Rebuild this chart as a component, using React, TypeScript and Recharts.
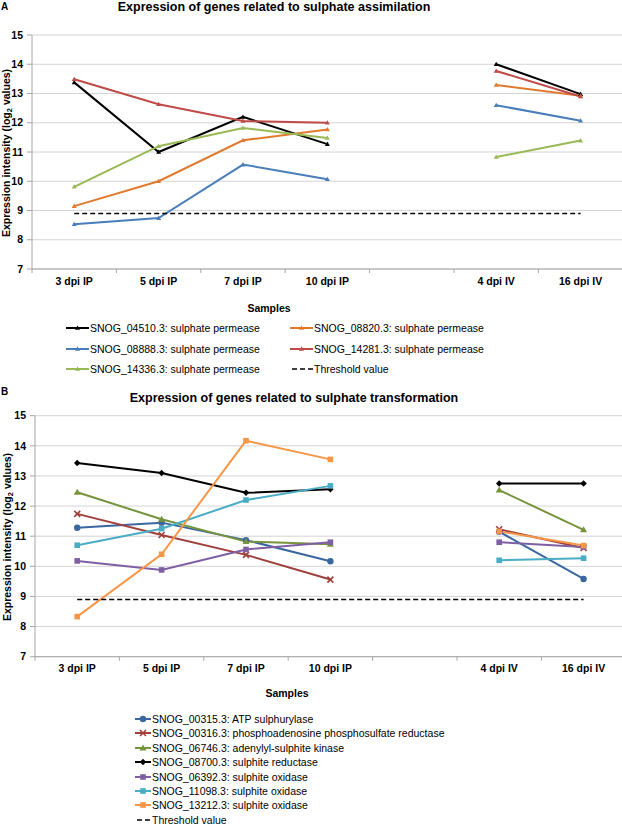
import React from 'react';
import { LineChart, Line, XAxis, YAxis, CartesianGrid } from 'recharts';

// sampling points (the blank one separates the in planta and in vitro samples)
const samples = ['3 dpi IP', '5 dpi IP', '7 dpi IP', '10 dpi IP', '', '4 dpi IV', '16 dpi IV'];
const yTicks = [7, 8, 9, 10, 11, 12, 13, 14, 15];

// A: sulphate assimilation
const snog04510 = [13.38, 11.0, 12.2, 11.27, null, 14.0, 12.98];
const snog08820 = [9.15, 10.0, 11.4, 11.77, null, 13.29, 12.92];
const snog08888 = [8.53, 8.74, 10.57, 10.07, null, 12.6, 12.07];
const snog14281 = [13.49, 12.63, 12.06, 12.0, null, 13.77, 12.9];
const snog14336 = [9.81, 11.2, 11.82, 11.48, null, 10.83, 11.39];
const thresholdA = [8.9, 8.9, 8.9, 8.9, 8.9, 8.9, 8.9];

// B: sulphate transformation
const snog00315 = [11.28, 11.45, 10.87, 10.17, null, 11.15, 9.58];
const snog00316 = [11.74, 11.04, 10.38, 9.56, null, 11.23, 10.61];
const snog06746 = [12.46, 11.56, 10.82, 10.73, null, 12.53, 11.21];
const snog08700 = [13.43, 13.1, 12.44, 12.56, null, 12.75, 12.75];
const snog06392 = [10.18, 9.88, 10.56, 10.8, null, 10.8, 10.64];
const snog11098 = [10.7, 11.25, 12.2, 12.67, null, 10.2, 10.27];
const snog13212 = [8.33, 10.4, 14.17, 13.55, null, 11.16, 10.69];
const thresholdB = [8.9, 8.9, 8.9, 8.9, 8.9, 8.9, 8.9];

type Series = { key: string; label: string; values: (number | null)[]; color: string; shape: string; dashed?: boolean };

const seriesA: Series[] = [
  { key: 'a1', label: 'SNOG_04510.3: sulphate permease', values: snog04510, color: '#000000', shape: 'tri' },
  { key: 'a2', label: 'SNOG_08820.3: sulphate permease', values: snog08820, color: '#E07A2E', shape: 'tri' },
  { key: 'a3', label: 'SNOG_08888.3: sulphate permease', values: snog08888, color: '#4A7EBB', shape: 'tri' },
  { key: 'a4', label: 'SNOG_14281.3: sulphate permease', values: snog14281, color: '#BE4B48', shape: 'tri' },
  { key: 'a5', label: 'SNOG_14336.3: sulphate permease', values: snog14336, color: '#98B954', shape: 'tri' },
  { key: 'a6', label: 'Threshold value', values: thresholdA, color: '#000000', shape: 'none', dashed: true },
];

const seriesB: Series[] = [
  { key: 'b1', label: 'SNOG_00315.3: ATP sulphurylase', values: snog00315, color: '#3A67A0', shape: 'circle' },
  { key: 'b2', label: 'SNOG_00316.3: phosphoadenosine phosphosulfate reductase', values: snog00316, color: '#A0403C', shape: 'x' },
  { key: 'b3', label: 'SNOG_06746.3: adenylyl-sulphite kinase', values: snog06746, color: '#77933C', shape: 'bigtri' },
  { key: 'b4', label: 'SNOG_08700.3: sulphite reductase', values: snog08700, color: '#000000', shape: 'diamond' },
  { key: 'b5', label: 'SNOG_06392.3: sulphite oxidase', values: snog06392, color: '#7F5FA3', shape: 'square' },
  { key: 'b6', label: 'SNOG_11098.3: sulphite oxidase', values: snog11098, color: '#4BACC6', shape: 'square' },
  { key: 'b7', label: 'SNOG_13212.3: sulphite oxidase', values: snog13212, color: '#F79646', shape: 'square' },
  { key: 'b8', label: 'Threshold value', values: thresholdB, color: '#000000', shape: 'none', dashed: true },
];

const font = '"Liberation Sans", Arial, sans-serif';
const axisGrey = '#A6A6A6';
const BAND = 84.4;

function Marker({ shape, x, y, color }: { shape: string; x: number; y: number; color: string }) {
  switch (shape) {
    case 'tri':
      return <path d={`M${x},${y - 2.5}L${x + 2.5},${y + 1.8}L${x - 2.5},${y + 1.8}Z`} fill={color} />;
    case 'bigtri':
      return <path d={`M${x},${y - 3.5}L${x + 3.5},${y + 2.5}L${x - 3.5},${y + 2.5}Z`} fill={color} />;
    case 'circle':
      return <circle cx={x} cy={y} r={3.2} fill={color} />;
    case 'square':
      return <rect x={x - 2.8} y={y - 2.8} width={5.6} height={5.6} fill={color} />;
    case 'diamond':
      return <path d={`M${x},${y - 3.2}L${x + 3.2},${y}L${x},${y + 3.2}L${x - 3.2},${y}Z`} fill={color} />;
    case 'x':
      return <path d={`M${x - 3},${y - 3}L${x + 3},${y + 3}M${x - 3},${y + 3}L${x + 3},${y - 3}`} stroke={color} strokeWidth={1.6} />;
    default:
      return null;
  }
}

const makeDot = (s: Series) => (props: any) => {
  const { cx, cy, index, value } = props;
  if (value == null || cx == null || cy == null) return <g key={`${s.key}-${index}`} />;
  return (
    <g key={`${s.key}-${index}`}>
      <Marker shape={s.shape} x={cx} y={cy} color={s.color} />
    </g>
  );
};

// category label plus Excel-style tick marks on the category boundaries
const makeSampleTick = (gap: number) => (props: any) => {
  const { x, y, payload, index } = props;
  const axisY = y - gap;
  const half = BAND / 2;
  return (
    <g>
      <line x1={x - half} x2={x - half} y1={axisY} y2={axisY + 4} stroke={axisGrey} />
      {index === samples.length - 1 && <line x1={x + half} x2={x + half} y1={axisY} y2={axisY + 4} stroke={axisGrey} />}
      <text x={x} y={y} dy="0.71em" textAnchor="middle" fill="#000" fontSize={10.5} fontWeight="bold" fontFamily={font}>
        {payload.value}
      </text>
    </g>
  );
};

const buildRows = (list: Series[]) =>
  samples.map((name, i) => {
    const row: any = { name };
    list.forEach((s) => (row[s.key] = s.values[i]));
    return row;
  });

const dataA = buildRows(seriesA);
const dataB = buildRows(seriesB);

function Panel({ data, list, yAxisWidth, rightMargin, topMargin, height, tickGap }: any) {
  return (
    <LineChart width={630} height={height} data={data} margin={{ top: topMargin, right: rightMargin, left: 0, bottom: 0 }}>
      <CartesianGrid vertical={false} stroke="#D4D4D4" />
      <XAxis
        dataKey="name"
        height={31}
        interval={0}
        padding={{ left: BAND / 2, right: BAND / 2 }}
        tickLine={false}
        tickSize={tickGap[0]}
        tickMargin={tickGap[1]}
        axisLine={{ stroke: axisGrey }}
        tick={makeSampleTick(tickGap[0] + tickGap[1])}
      />
      <YAxis
        width={yAxisWidth}
        domain={[7, 15]}
        ticks={yTicks}
        interval={0}
        tickSize={5}
        tickMargin={4}
        axisLine={{ stroke: axisGrey }}
        tickLine={{ stroke: axisGrey }}
        tick={{ fill: '#000', fontSize: 10.5, fontWeight: 'bold', fontFamily: font }}
      />
      {list.map((s: Series) => (
        <Line
          key={s.key}
          dataKey={s.key}
          type="linear"
          stroke={s.color}
          strokeWidth={s.dashed ? 1.5 : 2}
          strokeDasharray={s.dashed ? '5 3' : undefined}
          dot={s.dashed ? false : makeDot(s)}
          activeDot={false}
          isAnimationActive={false}
        />
      ))}
    </LineChart>
  );
}

function LegendItem({ s, x, y, lineLen }: { s: Series; x: number; y: number; lineLen: number }) {
  return (
    <div style={{ position: 'absolute', left: x, top: y - 7, height: 14, display: 'flex', alignItems: 'center', whiteSpace: 'nowrap' }}>
      <svg width={lineLen} height={14} style={{ display: 'block' }}>
        <line
          x1={s.dashed ? 2 : 0}
          x2={lineLen}
          y1={7}
          y2={7}
          stroke={s.color}
          strokeWidth={s.dashed ? 1.5 : 2}
          strokeDasharray={s.dashed ? '5 3' : undefined}
        />
        <Marker shape={s.shape} x={lineLen / 2} y={7} color={s.color} />
      </svg>
      <span style={{ fontSize: 10.5, marginLeft: 1, color: '#000' }}>{s.label}</span>
    </div>
  );
}

const rotated = (cx: number, cy: number) => (
  <div
    style={{
      position: 'absolute',
      left: cx,
      top: cy,
      transform: 'translate(-50%, -50%) rotate(-90deg)',
      fontSize: 10.5,
      fontWeight: 'bold',
      whiteSpace: 'nowrap',
      lineHeight: 1,
    }}
  >
    Expression intensity (log<span style={{ fontSize: 7.5, verticalAlign: -2 }}>2</span> values)
  </div>
);

const centred = (text: string, top: number, width: number, size: number) => (
  <div style={{ position: 'absolute', left: 0, top, width, textAlign: 'center', fontSize: size, fontWeight: 'bold', lineHeight: 1, whiteSpace: 'nowrap' }}>
    {text}
  </div>
);

export default function App() {
  return (
    <div style={{ position: 'absolute', left: 0, top: 0, width: 622, height: 826, overflow: 'hidden', background: '#fff', fontFamily: font }}>
      <div style={{ position: 'absolute', left: 1, top: 2, fontSize: 10, fontWeight: 'bold', lineHeight: 1 }}>A</div>
      {centred('Expression of genes related to sulphate assimilation', 1, 548, 12.5)}
      <div style={{ position: 'absolute', left: 0, top: 0 }}>
        <Panel data={dataA} list={seriesA} yAxisWidth={32} rightMargin={7.2} topMargin={35} height={300} tickGap={[6, 3]} />
      </div>
      {rotated(7, 153)}
      {centred('Samples', 303, 538, 10.5)}
      {seriesA.map((s, i) => (
        <LegendItem key={s.key} s={s} x={i % 2 === 0 ? 66 : 290} y={328 + Math.floor(i / 2) * 20.5} lineLen={23} />
      ))}

      <div style={{ position: 'absolute', left: 1, top: 387, fontSize: 10, fontWeight: 'bold', lineHeight: 1 }}>B</div>
      {centred('Expression of genes related to sulphate transformation', 392, 588, 12.5)}
      <div style={{ position: 'absolute', left: 0, top: 380 }}>
        <Panel data={dataB} list={seriesB} yAxisWidth={35} rightMargin={4.2} topMargin={35.7} height={307.7} tickGap={[5, 3]} />
      </div>
      {rotated(8, 537)}
      {centred('Samples', 688, 574, 10.5)}
      {seriesB.map((s, i) => (
        <LegendItem key={s.key} s={s} x={135} y={719 + i * 14.4} lineLen={16} />
      ))}
    </div>
  );
}
